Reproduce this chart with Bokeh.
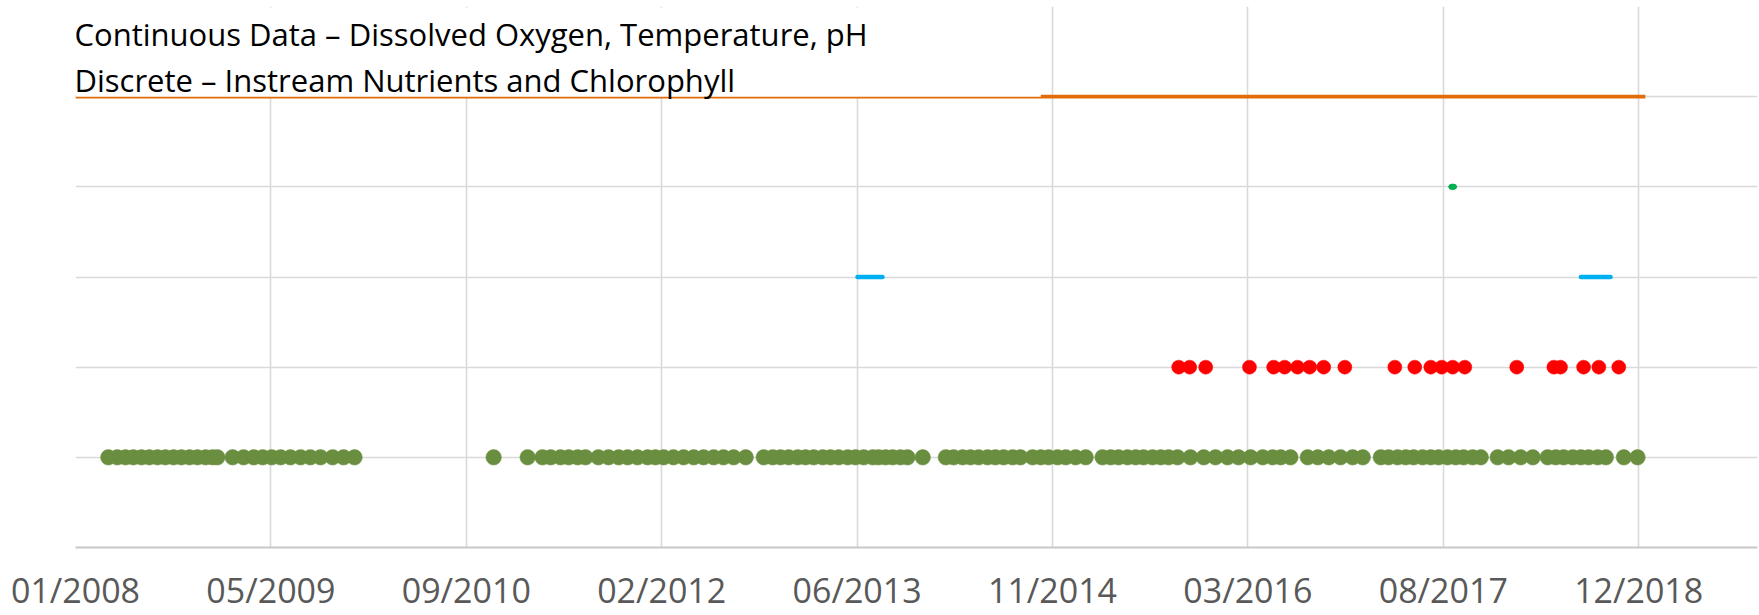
from datetime import datetime, timedelta

from bokeh.embed import file_html
from bokeh.models import BoxAnnotation, DatetimeTickFormatter, FixedTicker, Label, Range1d
from bokeh.plotting import figure
from bokeh.resources import INLINE

# ---------------- data (days since 2008-01-01) ----------------
START = datetime(2008, 1, 1)

title_lines = [
    "Continuous Data \u2013 Dissolved Oxygen, Temperature, pH",
    "Discrete \u2013 Instream Nutrients and Chlorophyll",
]

tick_dates = ["2008-01-01", "2009-05-15", "2010-09-27", "2012-02-09", "2013-06-23",
              "2014-11-05", "2016-03-19", "2017-08-01", "2018-12-14"]
tick_labels = ["01/2008", "05/2009", "09/2010", "02/2012", "06/2013",
               "11/2014", "03/2016", "08/2017", "12/2018"]

# discrete samples (olive, row 1)
discrete_days = [
    84, 107, 128, 148, 169, 189, 210, 230, 251, 271, 292, 312, 333, 351, 363,
    402, 430, 456, 479, 502, 525, 550, 576, 601, 627, 658, 686, 714,
    1070, 1157, 1195, 1216, 1241, 1262, 1285, 1305, 1338, 1364, 1390, 1413, 1438,
    1464, 1484, 1505, 1530, 1556, 1582, 1607, 1633, 1658, 1684, 1715, 1761, 1784,
    1804, 1825, 1848, 1868, 1889, 1912, 1932, 1953, 1976, 1996, 2017, 2040, 2055,
    2073, 2091, 2111, 2129, 2168, 2227, 2247, 2270, 2290, 2311, 2334, 2354, 2375,
    2398, 2418, 2449, 2470, 2490, 2513, 2534, 2559, 2585, 2628, 2649, 2669, 2692,
    2713, 2733, 2756, 2777, 2797, 2820, 2853, 2887, 2917, 2948, 2976, 3007, 3038,
    3063, 3084, 3109, 3153, 3179, 3207, 3237, 3268, 3294, 3340, 3360, 3383, 3404,
    3424, 3447, 3468, 3488, 3511, 3532, 3552, 3575, 3596, 3639, 3667, 3698, 3729,
    3767, 3788, 3808, 3831, 3852, 3872, 3895, 3916, 3962, 3997,
]
discrete_row = 1

# red samples (row 2)
red_days = [2823, 2851, 2892, 3004, 3066, 3094, 3127, 3158, 3194, 3248, 3376,
            3427, 3468, 3496, 3524, 3555, 3688, 3783, 3800, 3859, 3898, 3949]
red_row = 2

# blue continuous periods (row 3): start/end days
blue_starts = [2001, 3852]
blue_ends = [2065, 3928]
blue_row = 3

# single green sample (row 4)
green_days = [3524]
green_row = 4

# orange continuous record (row 5)
orange_days = [0, 4017]
orange_row = 5

y_ticks = [0, 1, 2, 3, 4, 5, 6]


def to_dates(days):
    return [START + timedelta(days=d) for d in days]


def ms(d):
    dt = datetime.strptime(d, "%Y-%m-%d")
    return int((dt - datetime(1970, 1, 1)).total_seconds() * 1000)


# ---------------- figure ----------------
p = figure(
    width=1759, height=615,
    x_axis_type="datetime",
    x_range=Range1d(START, START + timedelta(days=4304)),
    y_range=Range1d(0, 6),
    output_backend="svg", toolbar_location=None,
    min_border_left=75, min_border_right=2, min_border_top=6, min_border_bottom=68,
)
p.outline_line_color = None
p.background_fill_color = "white"
p.border_fill_color = "white"

# axes
tick_ms = [ms(d) for d in tick_dates]
p.xaxis.ticker = FixedTicker(ticks=tick_ms)
fmt = "%m/%Y"
p.xaxis.formatter = DatetimeTickFormatter(
    microseconds=fmt, milliseconds=fmt, seconds=fmt, minsec=fmt, minutes=fmt,
    hourmin=fmt, hours=fmt, days=fmt, months=fmt, years=fmt)
p.xaxis.major_label_overrides = {t: lab for t, lab in zip(tick_ms, tick_labels)}
p.xaxis.major_label_text_font = "Open Sans"
p.xaxis.major_label_text_font_size = "34px"
p.xaxis.major_label_text_color = "#595959"
p.xaxis.major_label_standoff = 19
p.xaxis.major_tick_in = 0
p.xaxis.major_tick_out = 0
p.xaxis.minor_tick_in = 0
p.xaxis.minor_tick_out = 0
p.xaxis.axis_line_color = "#c8c8c8"
p.xaxis.axis_line_width = 2

p.yaxis.ticker = FixedTicker(ticks=y_ticks)
p.yaxis.visible = False

p.xgrid.grid_line_color = "#d9d9d9"
p.xgrid.grid_line_width = 1.6
p.ygrid.grid_line_color = "#d9d9d9"
p.ygrid.grid_line_width = 1.6

# ---------------- series ----------------
p.line(to_dates(orange_days), [orange_row] * len(orange_days),
       line_color="#E36C0A", line_width=3.6, line_cap="butt")

p.multi_line(
    xs=[to_dates([s, e]) for s, e in zip(blue_starts, blue_ends)],
    ys=[[blue_row, blue_row] for _ in blue_starts],
    line_color="#00B0F0", line_width=4.5, line_cap="round")

p.scatter(to_dates(discrete_days), [discrete_row] * len(discrete_days),
          size=15.5, marker="circle", fill_color="#6A8E3F", line_color="#6A8E3F", line_width=0.5)

p.scatter(to_dates(red_days), [red_row] * len(red_days),
          size=14, marker="circle", fill_color="#FF0000", line_color="#FF0000", line_width=0.5)

p.ellipse(to_dates(green_days), [green_row] * len(green_days),
          width=8, height=5.5, width_units="screen", height_units="screen",
          fill_color="#00B050", line_color="#00B050")

# ---------------- text box over the top-left corner ----------------
box = BoxAnnotation(left=START, right=START + timedelta(days=2470),
                    bottom=orange_row, top=5.985,
                    fill_color="white", fill_alpha=1.0, line_color=None,
                    level="annotation")
p.add_layout(box)

for txt, yv in zip(title_lines, [5.697, 5.185]):
    p.add_layout(Label(x=START, y=yv, text=txt, x_offset=-1,
                       text_font="Open Sans", text_font_size="31px",
                       text_color="black", text_baseline="alphabetic",
                       level="annotation"))

open("out.html", "w").write(file_html(p, INLINE))
